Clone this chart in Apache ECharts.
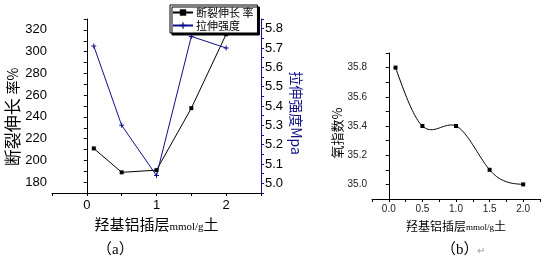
<!DOCTYPE html>
<html><head><meta charset="utf-8">
<script src="https://cdn.jsdelivr.net/npm/echarts@6/dist/echarts.min.js"></script>
<style>html,body{margin:0;padding:0;background:#fff}#c{width:546px;height:258px}</style>
</head><body><div id="c"></div>
<script>
// ---- data ----
const xA = [0.1, 0.5, 1.0, 1.5, 2.0];
const elongation = [211, 189, 191, 248, 316];      // 断裂伸长率 %
const tensile = [5.71, 5.30, 5.04, 5.76, 5.70];     // 拉伸强度 Mpa
const xB = [0.1, 0.5, 1.0, 1.5, 2.0];
const oxygenIndex = [35.8, 35.4, 35.4, 35.1, 35.0]; // 氧指数 %
const xTicksA = ['0', '1', '2'];
const yTicksA = ['180', '200', '220', '240', '260', '280', '300', '320'];
const yTicksA2 = ['5.0', '5.1', '5.2', '5.3', '5.4', '5.5', '5.6', '5.7', '5.8'];
const xTicksB = ['0.0', '0.5', '1.0', '1.5', '2.0'];
const yTicksB = ['35.0', '35.2', '35.4', '35.6', '35.8'];
const seriesNames = ['断裂伸长 率', '拉伸强度'];

const CJK = '"Noto Sans CJK SC", sans-serif';
const ARIAL = '"Liberation Sans", Arial, sans-serif';
const SERIF = '"Liberation Serif", "Noto Sans CJK SC", serif';
const BLUE = '#10108c';

function pick(list, digits) {
  const m = Math.pow(10, digits);
  return function (v) {
    const r = Math.round(v * m);
    if (Math.abs(v * m - r) > 1e-6) return '';
    const s = (r / m).toFixed(digits);
    return list.indexOf(s) >= 0 ? s : '';
  };
}
function pair(xs, ys) { return xs.map((x, i) => [x, ys[i]]); }

// natural cubic spline (rendering of the connecting curve, like the original plot's spline line)
function splineSecondDerivs(xs, ys) {
  const n = xs.length, M = new Array(n).fill(0);
  if (n < 3) return M;
  const a = [], b = [], c = [], d = [];
  for (let i = 1; i < n - 1; i++) {
    const h0 = xs[i] - xs[i - 1], h1 = xs[i + 1] - xs[i];
    a.push(h0); b.push(2 * (h0 + h1)); c.push(h1);
    d.push(6 * ((ys[i + 1] - ys[i]) / h1 - (ys[i] - ys[i - 1]) / h0));
  }
  const m = b.length;
  for (let i = 1; i < m; i++) {
    const w = a[i] / b[i - 1];
    b[i] -= w * c[i - 1]; d[i] -= w * d[i - 1];
  }
  const sol = new Array(m);
  sol[m - 1] = d[m - 1] / b[m - 1];
  for (let i = m - 2; i >= 0; i--) sol[i] = (d[i] - c[i] * sol[i + 1]) / b[i];
  for (let i = 0; i < m; i++) M[i + 1] = sol[i];
  return M;
}
function splineAt(xs, ys, M, i, x) {
  const h = xs[i + 1] - xs[i], A = (xs[i + 1] - x) / h, B = (x - xs[i]) / h;
  return A * ys[i] + B * ys[i + 1] + ((A * A * A - A) * M[i] + (B * B * B - B) * M[i + 1]) * h * h / 6;
}

const chart = echarts.init(document.getElementById('c'), null, {renderer: 'canvas'});
const axisBase = {
  axisLine: {show: true, lineStyle: {color: '#000', width: 1}},
  axisTick: {show: true, inside: false, length: 3, lineStyle: {color: '#000'}},
  splitLine: {show: false}
};
chart.setOption({
  animation: false,
  backgroundColor: '#fff',
  title: [
    {text: '（a）', left: 92, top: 238, textStyle: {fontFamily: SERIF, fontSize: 15, fontWeight: 'normal', color: '#000'}},
    {text: '（b）', left: 436, top: 238, textStyle: {fontFamily: SERIF, fontSize: 15, fontWeight: 'normal', color: '#000'}},
    {text: '↵', left: 472, top: 241, textStyle: {fontFamily: ARIAL, fontSize: 10, fontWeight: 'normal', color: '#999'}}
  ],
  legend: {
    orient: 'vertical', left: 170, top: 5, padding: [2, 4, 2, 2], itemGap: 2,
    itemWidth: 20, itemHeight: 8,
    backgroundColor: '#fff', borderColor: '#000', borderWidth: 1,
    shadowColor: '#000', shadowOffsetX: 2, shadowOffsetY: 2, shadowBlur: 0,
    textStyle: {fontFamily: CJK, fontSize: 11, color: '#000', padding: [0, 0, 0, -2]},
    data: seriesNames
  },
  grid: [
    {left: 52, top: 19, width: 209, height: 174, containLabel: false},
    {left: 372, top: 53, width: 168, height: 146, containLabel: false}
  ],
  xAxis: [
    Object.assign({}, axisBase, {
      gridIndex: 0, type: 'value', min: -0.5, max: 2.5, interval: 0.5,
      axisLabel: {formatter: pick(xTicksA, 0), margin: 6, fontFamily: ARIAL, fontSize: 13, color: '#000'},
      name: '{a|羟基铝插层}{b|mmol/g}{a|土}', nameLocation: 'middle', nameGap: 20,
      nameTextStyle: {rich: {
        a: {fontFamily: CJK, fontSize: 15, color: '#000'},
        b: {fontFamily: SERIF, fontSize: 11, color: '#000', verticalAlign: 'bottom', padding: [0, 0, -1, 0]}
      }}
    }),
    Object.assign({}, axisBase, {
      gridIndex: 1, type: 'value', min: -0.25, max: 2.25, interval: 0.25,
      axisLabel: {formatter: pick(xTicksB, 1), margin: 5, fontFamily: ARIAL, fontSize: 10, color: '#222'},
      name: '{a|羟基铝插层}{b|mmol/g}{a|土}', nameLocation: 'middle', nameGap: 21,
      nameTextStyle: {rich: {
        a: {fontFamily: CJK, fontSize: 12, color: '#000'},
        b: {fontFamily: SERIF, fontSize: 9, color: '#000', verticalAlign: 'bottom'}
      }}
    })
  ],
  yAxis: [
    Object.assign({}, axisBase, {
      gridIndex: 0, type: 'value', position: 'left', min: 170, max: 330, interval: 10,
      axisLabel: {formatter: pick(yTicksA, 0), margin: 5, fontFamily: ARIAL, fontSize: 13, color: '#000'},
      name: '{a|断裂伸长 }{b|率%}', nameLocation: 'middle', nameGap: 31,
      nameTextStyle: {padding: [0, 22, 0, 0], rich: {
        a: {fontFamily: CJK, fontSize: 17, color: '#000'},
        b: {fontFamily: CJK, fontSize: 14, color: '#000'}
      }}
    }),
    Object.assign({}, axisBase, {
      gridIndex: 0, type: 'value', position: 'right', min: 4.95, max: 5.85, interval: 0.05,
      axisLine: {show: true, lineStyle: {color: BLUE, width: 1}},
      axisTick: {show: true, length: 3, lineStyle: {color: BLUE}},
      axisLabel: {formatter: pick(yTicksA2, 1), margin: 4, fontFamily: ARIAL, fontSize: 13, color: '#000'},
      name: '拉伸强度Mpa', nameLocation: 'middle', nameGap: 28, nameRotate: -90,
      nameTextStyle: {fontFamily: CJK, fontSize: 14, color: BLUE, padding: [0, 0, 0, 14]}
    }),
    Object.assign({}, axisBase, {
      gridIndex: 1, type: 'value', position: 'left', min: 34.9, max: 35.9, interval: 0.1,
      axisLabel: {formatter: pick(yTicksB, 1), margin: 5, fontFamily: ARIAL, fontSize: 10, color: '#222'},
      name: '氧指数%', nameLocation: 'middle', nameGap: 25,
      nameTextStyle: {fontFamily: CJK, fontSize: 13, color: '#000', padding: [0, 14, 0, 0]}
    })
  ],
  series: [
    {
      name: seriesNames[0], type: 'line', xAxisIndex: 0, yAxisIndex: 0,
      data: pair(xA, elongation), symbol: 'rect', symbolSize: 4, showSymbol: true,
      lineStyle: {color: '#000', width: 1}, itemStyle: {color: '#000'}
    },
    {
      name: seriesNames[1], type: 'line', xAxisIndex: 0, yAxisIndex: 1,
      data: pair(xA, tensile), symbol: 'path://M4,0H6V4H10V6H6V10H4V6H0V4H4Z', symbolSize: 5,
      lineStyle: {color: BLUE, width: 1}, itemStyle: {color: BLUE}
    },
    {
      name: '氧指数曲线', type: 'custom', xAxisIndex: 1, yAxisIndex: 2,
      data: pair(xB, oxygenIndex), encode: {x: 0, y: 1}, silent: true,
      renderItem: function (params, api) {
        if (params.dataIndex !== 0) return null;
        const M = splineSecondDerivs(xB, oxygenIndex);
        const pts = [];
        for (let i = 0; i < xB.length - 1; i++) {
          const steps = 24;
          for (let k = 0; k <= steps; k++) {
            const x = xB[i] + (xB[i + 1] - xB[i]) * k / steps;
            pts.push(api.coord([x, splineAt(xB, oxygenIndex, M, i, x)]));
          }
        }
        return {type: 'polyline', shape: {points: pts}, style: {stroke: '#000', lineWidth: 1, fill: null}};
      }
    },
    {
      name: '氧指数', type: 'line', xAxisIndex: 1, yAxisIndex: 2,
      data: pair(xB, oxygenIndex), symbol: 'rect', symbolSize: 4,
      lineStyle: {width: 0, opacity: 0}, itemStyle: {color: '#000'}
    }
  ]
});
</script>
</body></html>
